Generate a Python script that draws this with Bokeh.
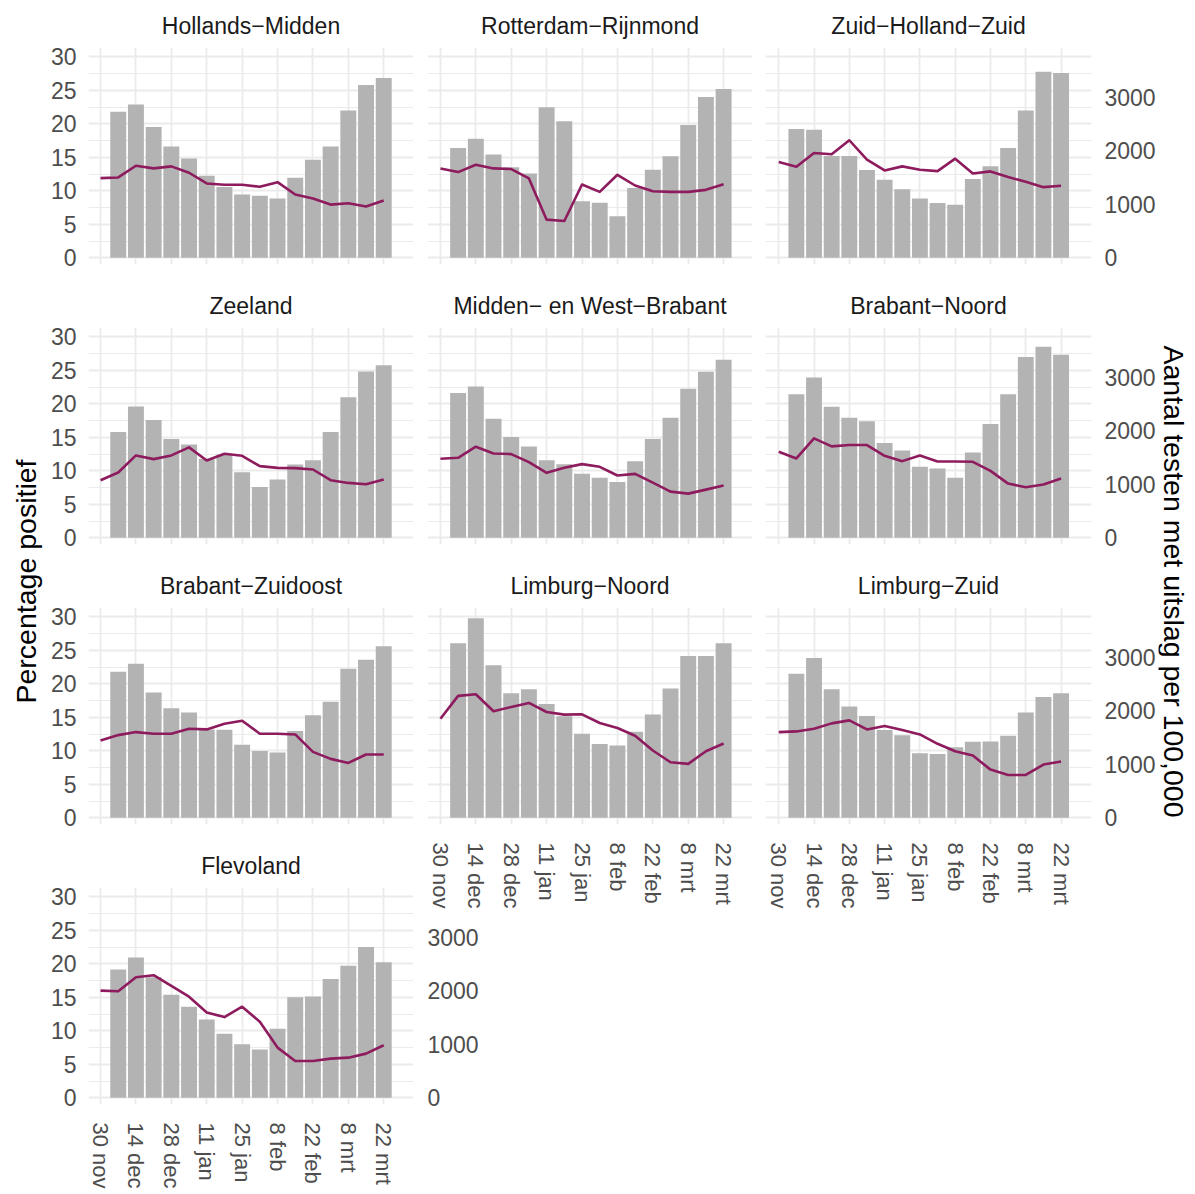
import math
from bokeh.plotting import figure
from bokeh.models import Range1d, LinearAxis, FixedTicker, Grid
from bokeh.layouts import row, column
from bokeh.embed import file_html
from bokeh.resources import INLINE
from bokeh.core.properties import value

# ---------------- data ----------------
week_labels = ["30 nov", "14 dec", "28 dec", "11 jan", "25 jan", "8 feb", "22 feb", "8 mrt", "22 mrt"]
week_label_pos = [0, 2, 4, 6, 8, 10, 12, 14, 16]   # week index of each label (30 nov = 0)
line_weeks = list(range(0, 17))   # percentage positief, weekly 30 nov .. 22 mrt
bar_weeks = list(range(1, 17))    # aantal testen, weekly 7 dec .. 22 mrt

regions = ["Hollands−Midden", "Rotterdam−Rijnmond", "Zuid−Holland−Zuid",
           "Zeeland", "Midden− en West−Brabant", "Brabant−Noord",
           "Brabant−Zuidoost", "Limburg−Noord", "Limburg−Zuid", "Flevoland"]

hm_tests = [2725, 2860, 2440, 2075, 1855, 1530, 1320, 1180, 1160, 1105, 1495, 1830, 2075, 2750, 3225, 3355]
hm_pct = [11.9, 12.0, 13.75, 13.35, 13.65, 12.7, 11.1, 10.9, 10.9, 10.6, 11.3, 9.45, 8.85, 7.95, 8.15, 7.65, 8.55]

rr_tests = [2050, 2220, 1930, 1690, 1575, 2810, 2550, 1055, 1030, 775, 1305, 1645, 1895, 2480, 3000, 3150]
rr_pct = [13.35, 12.8, 13.9, 13.35, 13.25, 11.85, 5.7, 5.5, 10.95, 9.85, 12.4, 10.8, 9.95, 9.85, 9.85, 10.15, 11.0]

zhz_tests = [2405, 2390, 1900, 1900, 1640, 1455, 1280, 1105, 1025, 990, 1470, 1710, 2050, 2750, 3470, 3450]
zhz_pct = [14.3, 13.6, 15.65, 15.45, 17.55, 14.65, 13.05, 13.65, 13.15, 12.95, 14.8, 12.6, 12.9, 12.05, 11.35, 10.55, 10.75]

ze_tests = [1975, 2450, 2200, 1845, 1740, 1475, 1555, 1225, 950, 1090, 1370, 1450, 1975, 2625, 3105, 3220]
ze_pct = [8.6, 9.75, 12.3, 11.75, 12.3, 13.5, 11.55, 12.55, 12.25, 10.7, 10.45, 10.4, 10.2, 8.6, 8.2, 8.0, 8.7]

mwb_tests = [2700, 2825, 2220, 1880, 1705, 1450, 1375, 1195, 1120, 1040, 1430, 1845, 2240, 2780, 3100, 3320]
mwb_pct = [11.8, 11.95, 13.6, 12.6, 12.5, 11.3, 9.7, 10.45, 11.0, 10.6, 9.3, 9.55, 8.25, 6.9, 6.6, 7.2, 7.8]

bn_tests = [2680, 2990, 2445, 2240, 2175, 1770, 1630, 1325, 1295, 1120, 1590, 2125, 2680, 3375, 3565, 3415]
bn_pct = [12.85, 11.85, 14.85, 13.65, 13.85, 13.85, 12.25, 11.45, 12.3, 11.4, 11.4, 11.35, 10.0, 8.1, 7.55, 7.95, 8.85]

bz_tests = [2725, 2875, 2340, 2045, 1965, 1650, 1645, 1365, 1245, 1220, 1620, 1915, 2165, 2780, 2950, 3200]
bz_pct = [11.55, 12.35, 12.8, 12.55, 12.55, 13.3, 13.2, 14.05, 14.5, 12.55, 12.55, 12.45, 9.85, 8.8, 8.2, 9.45, 9.45]

ln_tests = [3255, 3725, 2845, 2325, 2400, 2125, 1895, 1570, 1380, 1350, 1605, 1930, 2415, 3020, 3020, 3255]
ln_pct = [14.8, 18.2, 18.45, 15.9, 16.55, 17.15, 15.8, 15.4, 15.45, 14.15, 13.4, 12.25, 10.05, 8.3, 8.05, 9.95, 11.1]

lz_tests = [2690, 2980, 2400, 2075, 1900, 1640, 1540, 1205, 1190, 1315, 1420, 1425, 1530, 1965, 2255, 2325]
lz_pct = [12.8, 12.9, 13.3, 14.1, 14.55, 13.2, 13.7, 13.1, 12.45, 11.05, 9.95, 9.3, 7.2, 6.4, 6.4, 7.95, 8.4]

fl_tests = [2395, 2620, 2250, 1925, 1700, 1460, 1195, 1000, 900, 1290, 1875, 1890, 2215, 2465, 2815, 2530]
fl_pct = [16.0, 15.9, 18.0, 18.3, 16.7, 15.1, 12.75, 12.05, 13.6, 11.35, 7.5, 5.5, 5.5, 5.85, 6.0, 6.6, 7.85]

pct_ticks = [0, 5, 10, 15, 20, 25, 30]
pct_minor = [2.5, 7.5, 12.5, 17.5, 22.5, 27.5]
tests_ticks = [0, 1000, 2000, 3000]

left_title = "Percentage positief"
right_title = "Aantal testen met uitslag per 100,000"

# ---------------- styling ----------------
FONT = "Liberation Sans"
BAR = "#b3b3b3"
LINE = "#8e1b5e"
GRID = "#ebebeb"
SEC = 125.0                 # tests per percentage unit on the secondary axis
Y0, Y1 = -0.99, 31.39       # panel limits in percentage units
PX_WEEK = 17.70             # pixels per week
FRAME_H = 217
TOTAL_H = 1192


def base_figure(**kw):
    f = figure(x_axis_location=None, y_axis_location=None, toolbar_location=None,
               output_backend="svg", outline_line_color=None,
               background_fill_color="white", border_fill_color="white", **kw)
    f.center = [r for r in f.center if not isinstance(r, Grid)]
    return f


def style_axis(ax, standoff, size="23px"):
    ax.axis_line_color = None
    ax.major_tick_line_color = None
    ax.minor_tick_line_color = None
    ax.major_tick_in = 0
    ax.major_tick_out = 0
    ax.minor_tick_in = 0
    ax.minor_tick_out = 0
    ax.major_label_standoff = standoff
    ax.major_label_text_font = FONT
    ax.major_label_text_font_size = size
    ax.major_label_text_color = "#4d4d4d"


def panel(name, tests, pct, width, height, bl, br, bt, bb, x0,
          left=False, right=False, bottom=False):
    fw = width - bl - br
    p = base_figure(width=width, height=height,
                    x_range=Range1d(x0, x0 + fw / PX_WEEK), y_range=Range1d(Y0, Y1),
                    min_border_left=bl, min_border_right=br,
                    min_border_top=bt, min_border_bottom=bb, title=name)
    p.extra_y_ranges = {"tests": Range1d(Y0 * SEC, Y1 * SEC)}
    p.title.align = "center"
    p.title.text_font = FONT
    p.title.text_font_size = "23px"
    p.title.text_font_style = "normal"
    p.title.text_color = "#1a1a1a"
    p.title.standoff = 18

    p.add_layout(Grid(dimension=0, ticker=FixedTicker(ticks=week_label_pos),
                      grid_line_color=GRID, grid_line_width=1.8))
    p.add_layout(Grid(dimension=1, ticker=FixedTicker(ticks=pct_ticks, minor_ticks=pct_minor),
                      grid_line_color=GRID, grid_line_width=1.8,
                      minor_grid_line_color=GRID, minor_grid_line_width=1.0))

    p.vbar(x=bar_weeks, top=tests, bottom=0, width=0.9, y_range_name="tests",
           fill_color=BAR, line_color=None)
    p.line(line_weeks, pct, line_color=LINE, line_width=2.6, line_join="round")

    if left:
        ax = LinearAxis(ticker=FixedTicker(ticks=pct_ticks))
        style_axis(ax, 12)
        p.add_layout(ax, "left")
    if right:
        ax = LinearAxis(y_range_name="tests", ticker=FixedTicker(ticks=tests_ticks))
        style_axis(ax, 13)
        p.add_layout(ax, "right")
    if bottom:
        ax = LinearAxis(ticker=FixedTicker(ticks=week_label_pos),
                        major_label_overrides={w: l for w, l in zip(week_label_pos, week_labels)},
                        major_label_orientation="vertical")
        style_axis(ax, 18, "22px")
        p.add_layout(ax, "below")
    return p


C1 = dict(width=376, bl=44, br=7, x0=-0.68)
C2 = dict(width=338, bl=7, br=6, x0=-0.73)
C3 = dict(width=400, bl=7, br=66, x0=-0.75)

# column 1
hm = panel(regions[0], hm_tests, hm_pct, height=279, bt=47, bb=15, left=True, **C1)
ze = panel(regions[3], ze_tests, ze_pct, height=280, bt=48, bb=15, left=True, **C1)
bz = panel(regions[6], bz_tests, bz_pct, height=280, bt=48, bb=15, left=True, **C1)
fl = panel(regions[9], fl_tests, fl_pct, height=353, bt=48, bb=88, left=True, bottom=True, **C1)

# column 2
rr = panel(regions[1], rr_tests, rr_pct, height=279, bt=47, bb=15, **C2)
mwb = panel(regions[4], mwb_tests, mwb_pct, height=280, bt=48, bb=15, **C2)
ln = panel(regions[7], ln_tests, ln_pct, height=355, bt=48, bb=90, bottom=True, **C2)

# secondary axis of Flevoland (its labels sit in the second column)
stub_frame_h = 190
stub_top = Y0 * SEC + stub_frame_h * (Y1 - Y0) * SEC / FRAME_H
stub = base_figure(width=338, height=278, x_range=Range1d(0, 1), y_range=Range1d(Y0 * SEC, stub_top),
                   min_border_left=0, min_border_right=337, min_border_top=0, min_border_bottom=88)
sax = LinearAxis(ticker=FixedTicker(ticks=tests_ticks))
style_axis(sax, 6)
stub.add_layout(sax, "right")

# column 3
zhz = panel(regions[2], zhz_tests, zhz_pct, height=279, bt=47, bb=15, right=True, **C3)
bn = panel(regions[5], bn_tests, bn_pct, height=280, bt=48, bb=15, right=True, **C3)
lz = panel(regions[8], lz_tests, lz_pct, height=355, bt=48, bb=90, right=True, bottom=True, **C3)


def title_fig(text, width, xc, angle):
    t = base_figure(width=width, height=TOTAL_H, x_range=Range1d(0, width),
                    y_range=Range1d(0, TOTAL_H), min_border=0)
    t.text(x=[xc], y=[TOTAL_H - 581], text=[text], angle=angle, text_align="center",
           text_baseline="middle", text_font=value(FONT), text_font_size="28.5px",
           text_color="black")
    return t


lt = title_fig(left_title, 44, 25, math.pi / 2)
rt = title_fig(right_title, 35, 15, -math.pi / 2)

layout = row(lt, column(hm, ze, bz, fl), column(rr, mwb, ln, row(stub)), column(zhz, bn, lz), rt)

open("out.html", "w").write(file_html(layout, INLINE))
